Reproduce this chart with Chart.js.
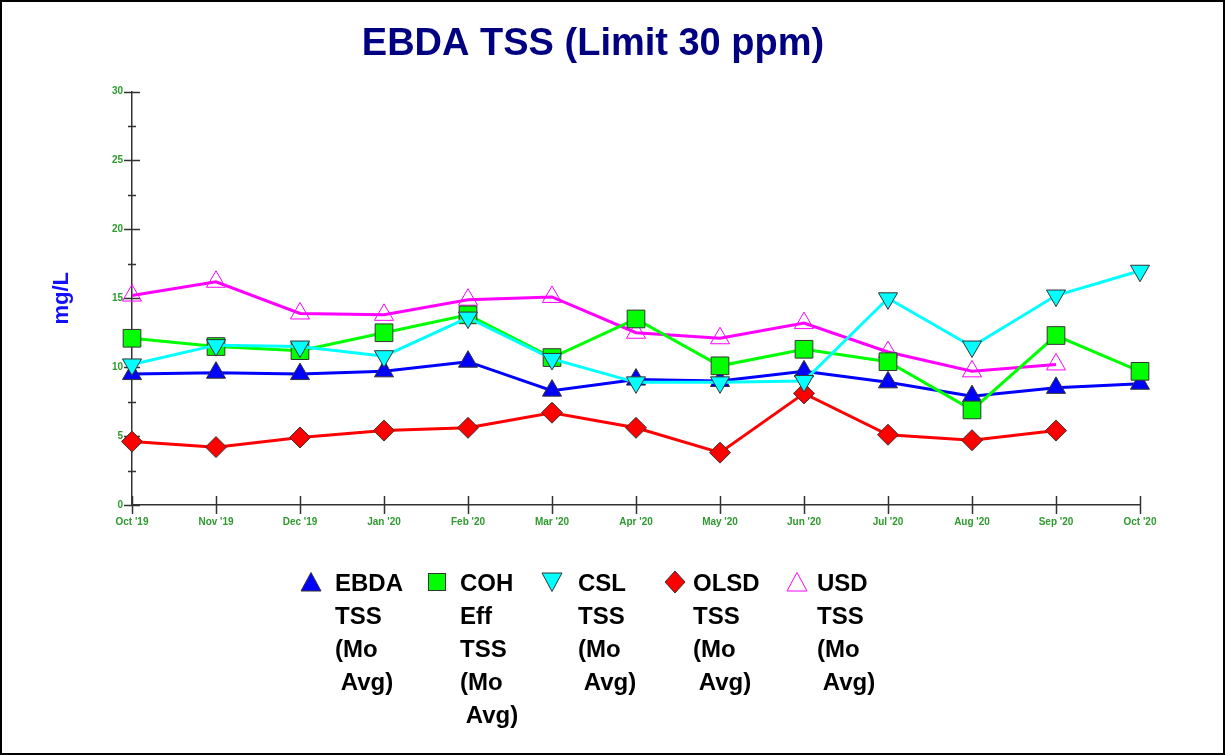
<!DOCTYPE html>
<html>
<head>
<meta charset="utf-8">
<script src="https://cdn.jsdelivr.net/npm/chart.js@4/dist/chart.umd.min.js"></script>
<style>
  body { margin: 0; background: #fff; }
  #wrap { position: relative; width: 1225px; height: 755px; }
  #frame { position: absolute; left: 0; top: 0; width: 1225px; height: 755px; box-sizing: border-box; border: 2px solid #000; pointer-events: none; }
  #legend { position: absolute; left: 300px; top: 566px; display: flex;
            font: bold 24px "Liberation Sans", Arial, sans-serif; color: #000; }
  .item { display: flex; align-items: flex-start; }
  .item svg { margin-top: 5px; }
  .item span { white-space: pre; line-height: 33px; }
  .item:nth-child(1) { width: 126px; } .item:nth-child(1) svg { margin-right: 13px; }
  .item:nth-child(2) { width: 115px; } .item:nth-child(2) svg { margin-right: 12px; }
  .item:nth-child(3) { width: 123px; } .item:nth-child(3) svg { margin-right: 15px; }
  .item:nth-child(4) { width: 122px; } .item:nth-child(4) svg { margin-right: 7px; }
  .item:nth-child(5) { width: 122px; } .item:nth-child(5) svg { margin-right: 9px; }
</style>
</head>
<body>
<div id="wrap">
  <canvas id="tssChart" width="1225" height="755"></canvas>
  <div id="legend"></div>
  <div id="frame"></div>
</div>
<script>
/* data */
var months = ["Oct '19", "Nov '19", "Dec '19", "Jan '20", "Feb '20", "Mar '20", "Apr '20",
              "May '20", "Jun '20", "Jul '20", "Aug '20", "Sep '20", "Oct '20"];
var ebdaTss = [9.5, 9.6, 9.5, 9.7, 10.4, 8.3, 9.1, 9.0, 9.7, 8.9, 7.9, 8.5, 8.8];
var cohTss  = [12.1, 11.5, 11.2, 12.5, 13.8, 10.7, 13.5, 10.1, 11.3, 10.4, 6.9, 12.3, 9.7];
var cslTss  = [10.2, 11.6, 11.5, 10.8, 13.6, 10.6, 8.9, 8.9, 9.0, 15.0, 11.5, 15.2, 17.0];
var olsdTss = [4.6, 4.2, 4.9, 5.4, 5.6, 6.7, 5.6, 3.8, 8.1, 5.1, 4.7, 5.4];
var usdTss  = [15.2, 16.2, 13.9, 13.8, 14.9, 15.1, 12.5, 12.1, 13.2, 11.1, 9.7, 10.2];
var yTicks  = [0, 5, 10, 15, 20, 25, 30];
var legendText = ["EBDA\nTSS\n(Mo\n Avg)", "COH\nEff\nTSS\n(Mo\n Avg)", "CSL\nTSS\n(Mo\n Avg)",
                  "OLSD\nTSS\n(Mo\n Avg)", "USD\nTSS\n(Mo\n Avg)"];

const FONT = '"Liberation Sans", Arial, sans-serif';
const TICK_GREEN = '#2e9a2e';
const EDGE = '#333';

/* axis tick marks that cross the axis lines */
const crossTicks = {
    id: 'crossTicks',
    beforeDatasetsDraw(chart) {
        const { ctx, scales: { x, y } } = chart;
        ctx.save();
        ctx.strokeStyle = EDGE;
        ctx.lineWidth = 1.5;
        ctx.beginPath();
        for (let v = yTicks[0]; v <= yTicks[yTicks.length - 1]; v += 2.5) {
            const py = Math.round(y.getPixelForValue(v)) + 0.5;
            const half = yTicks.includes(v) ? 8 : 4;
            ctx.moveTo(x.left - half, py);
            ctx.lineTo(x.left + half, py);
        }
        x.ticks.forEach((t, i) => {
            const px = Math.round(x.getPixelForTick(i)) + 0.5;
            ctx.moveTo(px, y.bottom - 9);
            ctx.lineTo(px, y.bottom + 9);
        });
        ctx.stroke();
        ctx.restore();
    }
};

function series(label, data, color, style, extra) {
    return Object.assign({
        label: label,
        data: data,
        borderColor: color,
        backgroundColor: color,
        borderWidth: 3,
        pointStyle: style,
        pointBorderColor: EDGE,
        pointBorderWidth: 1,
        pointRadius: 11,
        pointHoverRadius: 11,
        tension: 0,
        clip: false
    }, extra || {});
}

const ctx = document.getElementById('tssChart').getContext('2d');
const tssChart = new Chart(ctx, {
    type: 'line',
    data: {
        labels: months,
        datasets: [
            series('EBDA TSS (Mo Avg)', ebdaTss, '#0000ff', 'triangle', { order: 4 }),
            series('COH Eff TSS (Mo Avg)', cohTss, '#00ff00', 'rect', { pointRadius: 12.5, pointHoverRadius: 12.5, order: 3 }),
            series('CSL TSS (Mo Avg)', cslTss, '#00ffff', 'triangle', { pointRotation: 180, order: 1 }),
            series('OLSD TSS (Mo Avg)', olsdTss, '#ff0000', 'rectRot', { pointRadius: 10.5, pointHoverRadius: 10.5, order: 2 }),
            series('USD TSS (Mo Avg)', usdTss, '#ff00ff', 'triangle', {
                pointBackgroundColor: 'rgba(255,255,255,0)', pointBorderColor: '#ff00ff', order: 5 })
        ]
    },
    options: {
        responsive: false,
        animation: false,
        devicePixelRatio: 1,
        layout: { padding: { left: 46, right: 85, top: 0, bottom: 0 } },
        plugins: {
            legend: { display: false },
            tooltip: { enabled: false },
            title: {
                display: true,
                text: 'EBDA TSS (Limit 30 ppm)',
                color: '#000080',
                font: { family: FONT, size: 38, weight: 'bold' },
                padding: { top: 22, bottom: 24 }
            }
        },
        scales: {
            x: {
                grid: { display: false, drawTicks: false },
                border: { display: true, color: EDGE, width: 1.5 },
                ticks: {
                    color: TICK_GREEN,
                    font: { family: FONT, size: 10, weight: 'bold' },
                    padding: 11,
                    maxRotation: 0,
                    autoSkip: false
                },
                afterFit: (axis) => { axis.height = 250; }
            },
            y: {
                min: 0,
                max: 30,
                grid: { display: false, drawTicks: false },
                border: { display: true, color: EDGE, width: 1.5 },
                ticks: {
                    stepSize: 5,
                    color: TICK_GREEN,
                    font: { family: FONT, size: 10, weight: 'bold' },
                    padding: 9
                },
                title: {
                    display: true,
                    text: 'mg/L',
                    color: '#1010ff',
                    font: { family: FONT, size: 22, weight: 'bold' },
                    padding: { top: 3, bottom: 0 }
                },
                afterFit: (axis) => { axis.width = 86; }
            }
        }
    },
    plugins: [crossTicks]
});

/* legend with wrapped labels, built from the datasets */
const markerSvg = {
    triangle: (fill, stroke) => `<polygon points="11,1.5 21,20 1,20" fill="${fill}" stroke="${stroke}" stroke-width="1"/>`,
    rect: (fill, stroke) => `<rect x="2.5" y="2.5" width="17" height="17" fill="${fill}" stroke="${stroke}" stroke-width="1"/>`,
    down: (fill, stroke) => `<polygon points="1,2 21,2 11,20.5" fill="${fill}" stroke="${stroke}" stroke-width="1"/>`,
    rectRot: (fill, stroke) => `<polygon points="11,0 21,11 11,22 1,11" fill="${fill}" stroke="${stroke}" stroke-width="1"/>`
};
const legendEl = document.getElementById('legend');
tssChart.data.datasets.forEach((ds, i) => {
    let shape = ds.pointStyle;
    if (ds.pointRotation === 180) shape = 'down';
    const fill = ds.pointBackgroundColor || ds.backgroundColor;
    const stroke = ds.pointBorderColor;
    const item = document.createElement('div');
    item.className = 'item';
    item.innerHTML = `<svg width="22" height="22">${markerSvg[shape](fill, stroke)}</svg><span></span>`;
    item.querySelector('span').textContent = legendText[i];
    legendEl.appendChild(item);
});
</script>
</body>
</html>
